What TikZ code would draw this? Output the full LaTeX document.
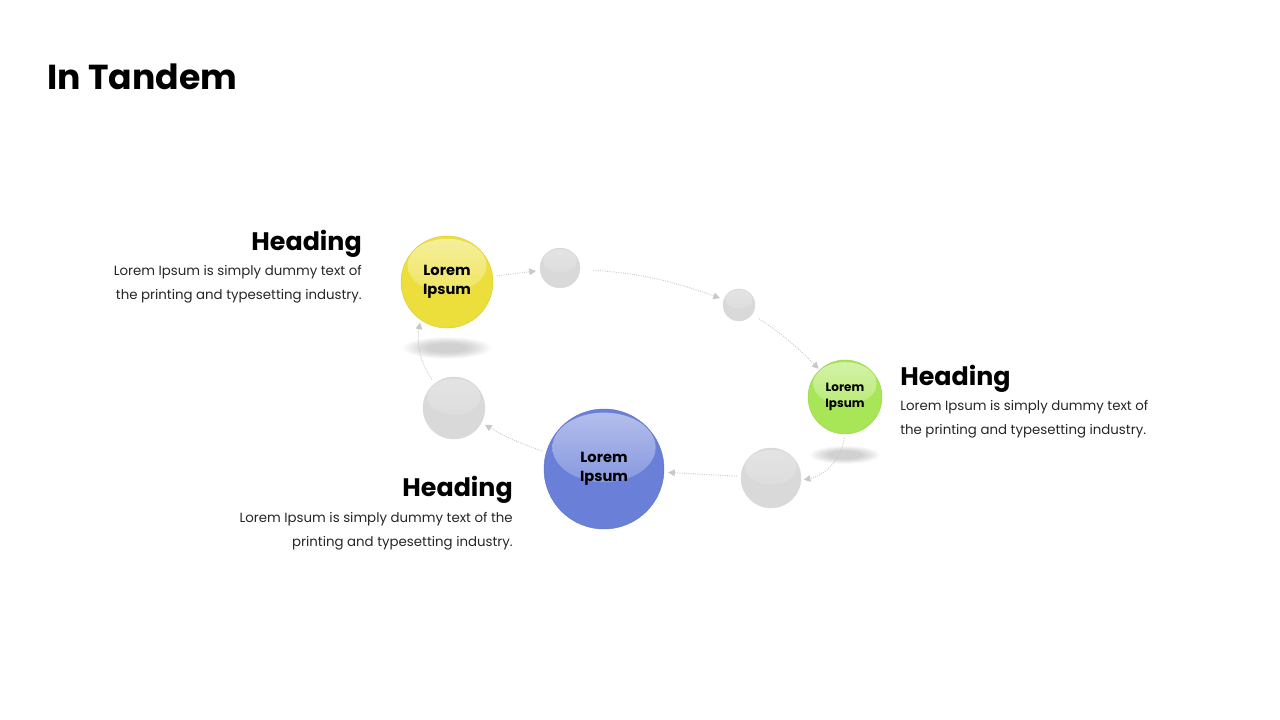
\documentclass[tikz,border=0pt]{standalone}
\usepackage{fontspec}
\setmainfont{Poppins}
\usetikzlibrary{arrows.meta, calc}
\definecolor{my yellow}{HTML}{ECDF3C}
\definecolor{my green}{HTML}{A9E657}
\definecolor{my blue}{HTML}{6A80D8}
\definecolor{my grey}{HTML}{D9D9D9}
\definecolor{my link}{HTML}{C8C8C8}

\tikzset{
  ball/.style 2 args={circle, fill=#1, draw=#1!90!black, line width=0.3pt, inner sep=0pt,
    align=center, font=\bfseries, text=black,
    path picture={
      \shade [top color=white!#2!#1, bottom color=#1]
        let \p1 = (path picture bounding box.north east), \p2 = (path picture bounding box.center)
        in (\x2, {\y2 + 0.36*(\y1-\y2)}) ellipse [x radius={0.86*(\x1-\x2)}, y radius={0.58*(\y1-\y2)}];
    }},
  pearl/.style={ball={my grey}{28}, draw=my grey},
  link/.style={my link, densely dotted, line width=0.7pt, -{Triangle[length=5pt, width=5pt]},
    shorten <=3pt, shorten >=3pt},
  heading/.style={font=\fontsize{19}{22}\selectfont\bfseries, inner sep=0pt},
  body/.style={font=\fontsize{10}{18}\selectfont, inner sep=0pt, text=black!85}
}

\begin{document}
\begin{tikzpicture}[x=0.75pt, y=-0.75pt]
  \useasboundingbox (0, 0) rectangle (1280, 720);

  % title
  \node [anchor=base west, inner sep=0pt, font=\fontsize{26}{30}\selectfont\bfseries] (title) at (47, 90) {In Tandem};

  % soft shadows under the coloured balls
  \foreach \s in {0,...,9}
    \fill [black, opacity=0.02] (447, 348) ellipse [x radius={44-2.6*\s}, y radius={11-0.7*\s}];
  \foreach \s in {0,...,9}
    \fill [black, opacity=0.018] (845, 455) ellipse [x radius={35-2*\s}, y radius={9-0.55*\s}];

  % balls
  \node [ball={my yellow}{50}, minimum size=69pt, font=\fontsize{11}{14}\selectfont\bfseries] (yel) at (447, 282) {Lorem\\Ipsum};
  \node [ball={my green}{50}, minimum size=55.5pt, font=\fontsize{9}{12}\selectfont\bfseries] (grn) at (845, 397) {Lorem\\Ipsum};
  \node [ball={my blue}{50}, minimum size=90pt, font=\fontsize{11}{14}\selectfont\bfseries] (blu) at (604, 469) {Lorem\\Ipsum};
  \node [pearl, minimum size=30pt] (p1) at (560, 268) {};
  \node [pearl, minimum size=24pt] (p2) at (739, 305) {};
  \node [pearl, minimum size=45pt] (p3) at (771, 478) {};
  \node [pearl, minimum size=46.5pt] (p4) at (454, 408) {};

  % links round the loop
  \draw [link] (yel) -- (p1);
  \draw [link, shorten <=10pt] (p1) to [bend left=8] (p2);
  \draw [link, shorten <=6pt, shorten >=1pt] (p2) to [bend left=6] (grn);
  \draw [link, shorten >=2pt] (grn.south) to [bend left=35] (p3);
  \draw [link] (p3) -- (blu);
  \draw [link] (blu) to [bend left=6] (p4);
  \draw [link, shorten <=4pt, shorten >=2pt] (p4.128) to [bend left=22] (yel.235);

  % texts
  \node [heading, anchor=base east] (h1) at (362, 250) {Heading};
  \node [body, anchor=north east, align=right] (t1) at (362, 265) {Lorem Ipsum is simply dummy text of\\the printing and typesetting industry.};
  \node [heading, anchor=base west] (h2) at (900, 385) {Heading};
  \node [body, anchor=north west, align=left] (t2) at (900, 400) {Lorem Ipsum is simply dummy text of\\the printing and typesetting industry.};
  \node [heading, anchor=base east] (h3) at (513, 496) {Heading};
  \node [body, anchor=north east, align=right] (t3) at (513, 512) {Lorem Ipsum is simply dummy text of the\\printing and typesetting industry.};
\end{tikzpicture}
\end{document}
